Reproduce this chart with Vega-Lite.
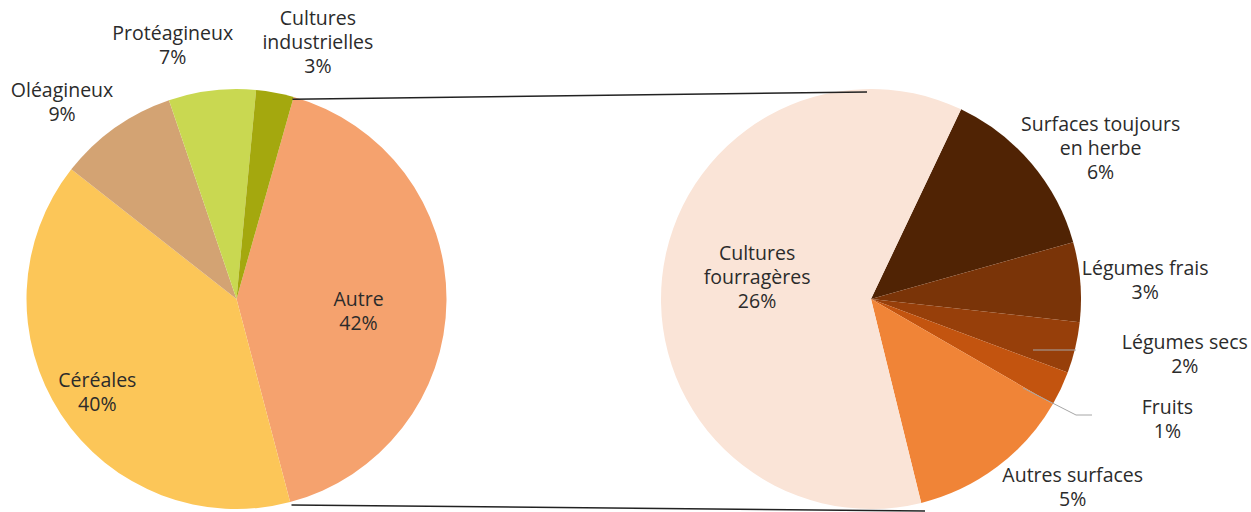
{
  "$schema": "https://vega.github.io/schema/vega-lite/v6.json",
  "width": 1251,
  "height": 512,
  "autosize": {"type": "none"},
  "padding": 0,
  "background": "white",
  "config": {
    "view": {"stroke": null},
    "text": {"font": "Open Sans", "fontSize": 19.5, "fill": "#2b2b2b", "lineBreak": "\n", "lineHeight": 24}
  },
  "datasets": {
    "ensemble": [
      {"pie": "Ensemble", "categorie": "Autre", "ordre": 1, "valeur": 41.5, "etiquette": "Autre\n42%"},
      {"pie": "Ensemble", "categorie": "Céréales", "ordre": 2, "valeur": 39.7, "etiquette": "Céréales\n40%"},
      {"pie": "Ensemble", "categorie": "Oléagineux", "ordre": 3, "valeur": 9.2, "etiquette": "Oléagineux\n9%"},
      {"pie": "Ensemble", "categorie": "Protéagineux", "ordre": 4, "valeur": 6.7, "etiquette": "Protéagineux\n7%"},
      {"pie": "Ensemble", "categorie": "Cultures industrielles", "ordre": 5, "valeur": 2.9, "etiquette": "Cultures\nindustrielles\n3%"}
    ],
    "autre": [
      {"pie": "Autre", "categorie": "Surfaces toujours en herbe", "ordre": 1, "valeur": 5.71, "etiquette": "Surfaces toujours\nen herbe\n6%"},
      {"pie": "Autre", "categorie": "Légumes frais", "ordre": 2, "valeur": 2.57, "etiquette": "Légumes frais\n3%"},
      {"pie": "Autre", "categorie": "Légumes secs", "ordre": 3, "valeur": 1.65, "etiquette": "Légumes secs\n2%"},
      {"pie": "Autre", "categorie": "Fruits", "ordre": 4, "valeur": 1.11, "etiquette": "Fruits\n1%"},
      {"pie": "Autre", "categorie": "Autres surfaces", "ordre": 5, "valeur": 5.39, "etiquette": "Autres surfaces\n5%"},
      {"pie": "Autre", "categorie": "Cultures fourragères", "ordre": 6, "valeur": 25.59, "etiquette": "Cultures\nfourragères\n26%"}
    ]
  },
  "layer": [
    {
      "data": {"name": "ensemble"},
      "encoding": {
        "x": {"field": "pie", "type": "nominal", "scale": {"type": "point", "domain": ["Ensemble", "Autre"], "range": [236.5, 871], "padding": 0}, "axis": null},
        "y": {"datum": 0, "type": "quantitative", "scale": {"domain": [-1, 1], "range": [509, 89]}, "axis": null},
        "theta": {"field": "valeur", "type": "quantitative", "stack": true, "scale": {"domain": [0, 100], "range": [0.27576, 6.55895]}},
        "order": {"field": "ordre", "type": "quantitative"}
      },
      "layer": [
        {
          "mark": {"type": "arc", "outerRadius": 210},
          "encoding": {
            "color": {"field": "categorie", "type": "nominal", "legend": null,
              "scale": {"domain": ["Autre", "Céréales", "Oléagineux", "Protéagineux", "Cultures industrielles"],
                        "range": ["#F5A26E", "#FCC658", "#D3A373", "#C9D851", "#A4A80E"]}}
          }
        },
        {"mark": {"type": "text", "radius": 122, "dx": 0, "dy": 0},
         "encoding": {"text": {"condition": {"test": "datum.categorie === 'Autre'", "field": "etiquette"}, "value": ""}}},
        {"mark": {"type": "text", "radius": 169, "dx": 2, "dy": -11},
         "encoding": {"text": {"condition": {"test": "datum.categorie === 'Céréales'", "field": "etiquette"}, "value": ""}}},
        {"mark": {"type": "text", "radius": 262, "dx": -23, "dy": 6},
         "encoding": {"text": {"condition": {"test": "datum.categorie === 'Oléagineux'", "field": "etiquette"}, "value": ""}}},
        {"mark": {"type": "text", "radius": 255, "dx": -34, "dy": -12},
         "encoding": {"text": {"condition": {"test": "datum.categorie === 'Protéagineux'", "field": "etiquette"}, "value": ""}}},
        {"mark": {"type": "text", "radius": 258, "dx": 34, "dy": -26},
         "encoding": {"text": {"condition": {"test": "datum.categorie === 'Cultures industrielles'", "field": "etiquette"}, "value": ""}}}
      ]
    },
    {
      "data": {"name": "autre"},
      "encoding": {
        "x": {"field": "pie", "type": "nominal"},
        "y": {"datum": 0, "type": "quantitative"},
        "theta": {"field": "valeur", "type": "quantitative", "stack": true, "scale": {"domain": [0, 42.02], "range": [0.44331, 6.72650]}},
        "order": {"field": "ordre", "type": "quantitative"}
      },
      "layer": [
        {
          "mark": {"type": "arc", "outerRadius": 210},
          "encoding": {
            "color": {"field": "categorie", "type": "nominal", "legend": null,
              "scale": {"domain": ["Surfaces toujours en herbe", "Légumes frais", "Légumes secs", "Fruits", "Autres surfaces", "Cultures fourragères"],
                        "range": ["#502304", "#7A3408", "#973F0A", "#C3540F", "#F08437", "#FAE4D7"]}}
          }
        },
        {"mark": {"type": "text", "radius": 110, "dx": -4.5, "dy": -34},
         "encoding": {"text": {"condition": {"test": "datum.categorie === 'Cultures fourragères'", "field": "etiquette"}, "value": ""}}},
        {"mark": {"type": "text", "radius": 265, "dx": 27, "dy": -3},
         "encoding": {"text": {"condition": {"test": "datum.categorie === 'Surfaces toujours en herbe'", "field": "etiquette"}, "value": ""}}},
        {"mark": {"type": "text", "radius": 250, "dx": 25, "dy": -9.5},
         "encoding": {"text": {"condition": {"test": "datum.categorie === 'Légumes frais'", "field": "etiquette"}, "value": ""}}},
        {"mark": {"type": "text", "radius": 300, "dx": 22, "dy": -26},
         "encoding": {"text": {"condition": {"test": "datum.categorie === 'Légumes secs'", "field": "etiquette"}, "value": ""}}},
        {"mark": {"type": "text", "radius": 300, "dx": 25, "dy": -18.5},
         "encoding": {"text": {"condition": {"test": "datum.categorie === 'Fruits'", "field": "etiquette"}, "value": ""}}},
        {"mark": {"type": "text", "radius": 270, "dx": 39.5, "dy": -38.5},
         "encoding": {"text": {"condition": {"test": "datum.categorie === 'Autres surfaces'", "field": "etiquette"}, "value": ""}}}
      ]
    },
    {
      "data": {"values": [{}]},
      "layer": [
        {"mark": {"type": "rule", "color": "#222222", "strokeWidth": 1.5, "xOffset": 56, "x2Offset": -4},
         "encoding": {"x": {"datum": "Ensemble", "type": "nominal"}, "x2": {"datum": "Autre"},
                      "y": {"datum": 0.951, "type": "quantitative"}, "y2": {"datum": 0.9857}}},
        {"mark": {"type": "rule", "color": "#222222", "strokeWidth": 1.5, "xOffset": 55, "x2Offset": 54},
         "encoding": {"x": {"datum": "Ensemble", "type": "nominal"}, "x2": {"datum": "Autre"},
                      "y": {"datum": -0.981, "type": "quantitative"}, "y2": {"datum": -1.0095}}},
        {"mark": {"type": "rule", "color": "#A6A6A6", "strokeWidth": 1, "xOffset": 162, "x2Offset": 205},
         "encoding": {"x": {"datum": "Autre", "type": "nominal"}, "x2": {"datum": "Autre"},
                      "y": {"datum": -0.2429, "type": "quantitative"}, "y2": {"datum": -0.2429}}},
        {"mark": {"type": "rule", "color": "#A6A6A6", "strokeWidth": 1, "xOffset": 152, "x2Offset": 205},
         "encoding": {"x": {"datum": "Autre", "type": "nominal"}, "x2": {"datum": "Autre"},
                      "y": {"datum": -0.4238, "type": "quantitative"}, "y2": {"datum": -0.5524}}},
        {"mark": {"type": "rule", "color": "#A6A6A6", "strokeWidth": 1, "xOffset": 205, "x2Offset": 221},
         "encoding": {"x": {"datum": "Autre", "type": "nominal"}, "x2": {"datum": "Autre"},
                      "y": {"datum": -0.5524, "type": "quantitative"}, "y2": {"datum": -0.5524}}}
      ]
    }
  ],
  "resolve": {"scale": {"theta": "independent", "color": "independent"}}
}
